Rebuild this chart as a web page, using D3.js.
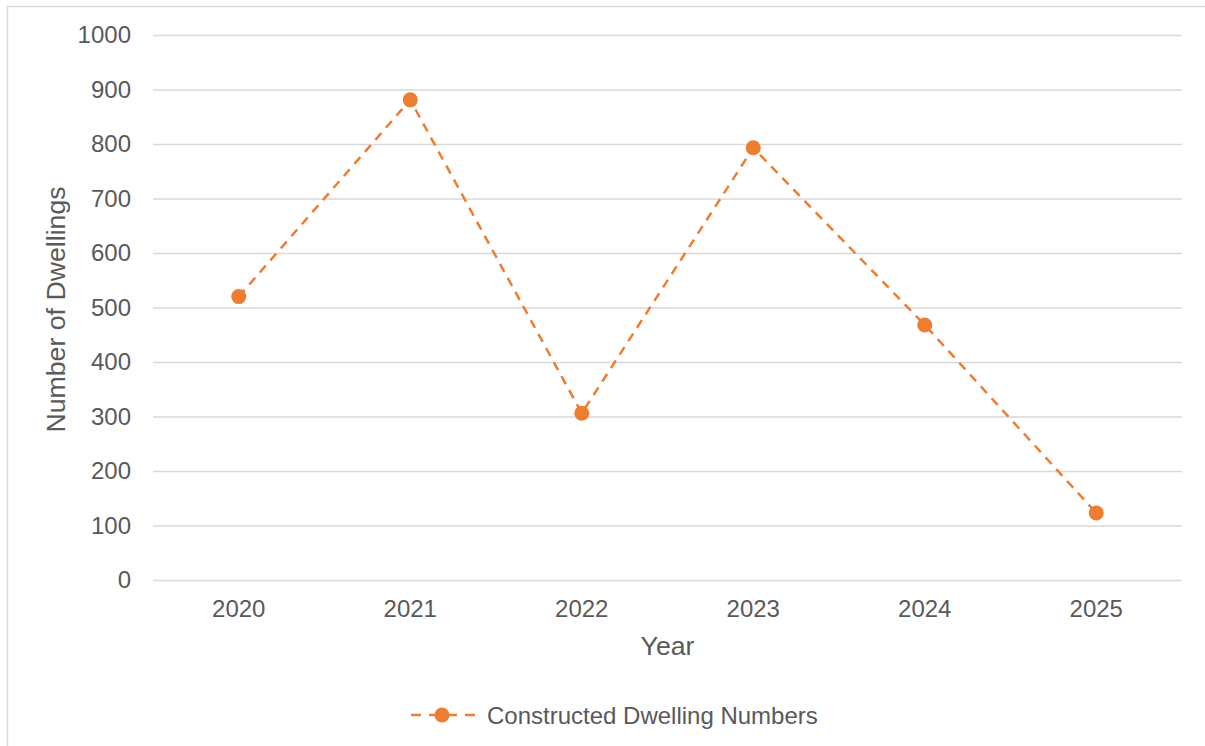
<!DOCTYPE html>
<html>
<head>
<meta charset="utf-8">
<script src="https://cdn.jsdelivr.net/npm/d3@7"></script>
<style>
  html, body { margin: 0; padding: 0; background: #fff; }
  svg { display: block; font-family: "Liberation Sans", Arial, sans-serif; }
</style>
</head>
<body>
<svg id="chart" width="1205" height="746"></svg>
<script>
// Constructed dwellings per year
const years = ["2020", "2021", "2022", "2023", "2024", "2025"];
const dwellings = [520, 881, 306, 793, 468, 123];
const yTicks = [0, 100, 200, 300, 400, 500, 600, 700, 800, 900, 1000];
const seriesName = "Constructed Dwelling Numbers";

const W = 1205, H = 746;
const plot = { left: 153, right: 1182, top: 35, bottom: 580 };
const orange = "#ED7D31";
const textColor = "#595959";
const gridColor = "#D9D9D9";

const svg = d3.select("#chart");

// Chart frame (top and left edges visible)
svg.append("path")
  .attr("d", `M7.5,${H} V6.5 H${W}`)
  .attr("fill", "none")
  .attr("stroke", gridColor)
  .attr("stroke-width", 1.5);

const x = d3.scaleBand().domain(years).range([plot.left, plot.right]).padding(0);
const y = d3.scaleLinear().domain([0, 1000]).range([plot.bottom, plot.top]);

// Horizontal gridlines + y labels
const yAxis = d3.axisLeft(y).tickValues(yTicks).tickSize(-(plot.right - plot.left)).tickPadding(22).tickFormat(d3.format("d"));
const gy = svg.append("g").attr("transform", `translate(${plot.left},0)`).call(yAxis);
gy.select(".domain").remove();
gy.selectAll(".tick line").attr("stroke", gridColor).attr("stroke-width", 1.5);
gy.selectAll(".tick text").attr("fill", textColor).style("font-size", "24px")
  .attr("font-family", "Liberation Sans, Arial, sans-serif");

// X labels
const xAxis = d3.axisBottom(x).tickSize(0).tickPadding(20);
const gx = svg.append("g").attr("transform", `translate(0,${plot.bottom})`).call(xAxis);
gx.select(".domain").remove();
gx.selectAll(".tick text").attr("fill", textColor).style("font-size", "24px")
  .attr("font-family", "Liberation Sans, Arial, sans-serif");

// Axis titles
svg.append("text")
  .attr("x", (plot.left + plot.right) / 2).attr("y", 655)
  .attr("text-anchor", "middle").attr("fill", textColor)
  .style("font-size", "26.7px").text("Year");

svg.append("text")
  .attr("transform", `translate(65,${(plot.top + plot.bottom) / 2 + 2}) rotate(-90)`)
  .attr("text-anchor", "middle").attr("fill", textColor)
  .style("font-size", "26.7px").text("Number of Dwellings");

// Series line
const pts = years.map((yr, i) => ({ yr, v: dwellings[i] }));
const line = d3.line().x(d => x(d.yr) + x.bandwidth() / 2).y(d => y(d.v));
svg.append("path")
  .datum(pts)
  .attr("d", line)
  .attr("fill", "none")
  .attr("stroke", orange)
  .attr("stroke-width", 2.5)
  .attr("stroke-dasharray", "9,7");

svg.append("g").selectAll("circle")
  .data(pts).join("circle")
  .attr("cx", d => x(d.yr) + x.bandwidth() / 2)
  .attr("cy", d => y(d.v))
  .attr("r", 7.5)
  .attr("fill", orange);

// Legend
const lg = svg.append("g").attr("transform", "translate(0,715)");
lg.append("line").attr("x1", 411).attr("x2", 478).attr("y1", 0).attr("y2", 0)
  .attr("stroke", orange).attr("stroke-width", 2.5).attr("stroke-dasharray", "10,8");
lg.append("circle").attr("cx", 442).attr("cy", 0).attr("r", 7.5).attr("fill", orange);
lg.append("text").attr("x", 487).attr("y", 8.5).attr("fill", textColor)
  .style("font-size", "24px").text(seriesName);
</script>
</body>
</html>
